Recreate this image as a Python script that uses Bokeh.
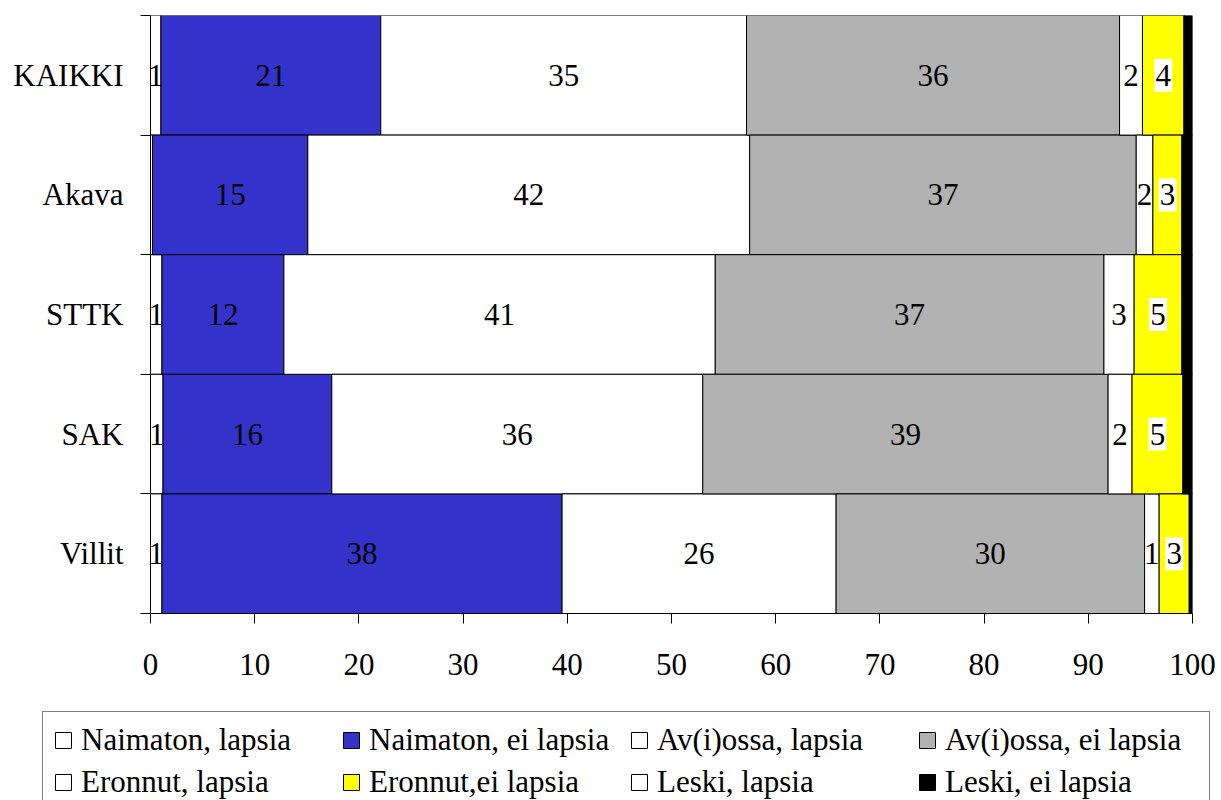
from bokeh.plotting import figure
from bokeh.layouts import column
from bokeh.models import Range1d, FixedTicker, ColumnDataSource, Legend, LegendItem
from bokeh.core.properties import value
from bokeh.embed import file_html
from bokeh.resources import INLINE

categories = ["KAIKKI", "Akava", "STTK", "SAK", "Villit"]

naimaton_lapsia = [1.0, 0.2, 1.1, 1.2, 1.1]
naimaton_ei_lapsia = [21.1, 14.9, 11.7, 16.2, 38.4]
avio_lapsia = [35.1, 42.4, 41.4, 35.6, 26.3]
avio_ei_lapsia = [35.8, 37.1, 37.3, 38.9, 29.6]
eronnut_lapsia = [2.2, 1.6, 2.9, 2.3, 1.4]
eronnut_ei_lapsia = [4.0, 2.8, 4.6, 4.9, 2.9]
leski_lapsia = [0.0, 0.0, 0.0, 0.0, 0.0]
leski_ei_lapsia = [0.8, 1.0, 1.0, 0.9, 0.3]

series_names = ["Naimaton, lapsia", "Naimaton, ei lapsia", "Av(i)ossa, lapsia",
                "Av(i)ossa, ei lapsia", "Eronnut, lapsia", "Eronnut,ei lapsia",
                "Leski, lapsia", "Leski, ei lapsia"]
series_values = [naimaton_lapsia, naimaton_ei_lapsia, avio_lapsia, avio_ei_lapsia,
                 eronnut_lapsia, eronnut_ei_lapsia, leski_lapsia, leski_ei_lapsia]
series_colors = ["#FFFFFF", "#3333CC", "#FFFFFF", "#B2B2B2",
                 "#FFFFFF", "#FFFF00", "#FFFFFF", "#000000"]
series_labelled = [True, True, True, True, True, True, False, False]
x_ticks = [0, 10, 20, 30, 40, 50, 60, 70, 80, 90, 100]

FONT = "Liberation Serif"
FS = "31px"

n = len(categories)
y_pos = [n - i - 0.5 for i in range(n)]
boundaries = [float(b) for b in range(n + 1)]

p = figure(frame_width=1042, frame_height=598,
           min_border_left=150, min_border_right=29,
           min_border_top=15, min_border_bottom=92,
           x_range=Range1d(0, 100), y_range=Range1d(0, n),
           output_backend="svg", toolbar_location=None,
           background_fill_color="white", border_fill_color="white")
p.outline_line_color = None
p.grid.visible = False

cum = [0.0] * n
for name, vals, col, lab in zip(series_names, series_values, series_colors, series_labelled):
    left = cum[:]
    right = [a + b for a, b in zip(cum, vals)]
    src = ColumnDataSource(dict(y=y_pos, left=left, right=right))
    p.hbar(y="y", left="left", right="right", height=1.0, source=src,
           fill_color=col, line_color="black", line_width=1)
    if lab:
        xs, ys, ts = [], [], []
        for i in range(n):
            v = round(vals[i])
            if v >= 1:
                xs.append((left[i] + right[i]) / 2)
                ys.append(y_pos[i])
                ts.append(str(v))
        tsrc = ColumnDataSource(dict(x=xs, y=ys, t=ts))
        if col == "#FFFF00":
            p.rect(x="x", y="y", width=18, height=33, width_units="screen",
                   height_units="screen", source=tsrc, fill_color="white",
                   line_color=None)
        p.text(x="x", y="y", text="t", source=tsrc, text_font=value(FONT),
               text_font_size=FS, text_align="center", text_baseline="middle",
               text_color="black")
    cum = right

# x axis
p.xaxis.ticker = FixedTicker(ticks=x_ticks)
p.xaxis.major_tick_in = 0
p.xaxis.major_tick_out = 10
p.xaxis.minor_tick_line_color = None
p.xaxis.major_label_text_font = FONT
p.xaxis.major_label_text_font_size = FS
p.xaxis.major_label_text_color = "black"
p.xaxis.major_label_standoff = 30
p.xaxis.axis_line_color = "black"
p.xaxis.major_tick_line_color = "black"

# y axis
p.yaxis.ticker = FixedTicker(ticks=y_pos, minor_ticks=boundaries)
p.yaxis.major_label_overrides = {y: c for y, c in zip(y_pos, categories)}
p.yaxis.major_tick_line_color = None
p.yaxis.major_tick_in = 0
p.yaxis.major_tick_out = 10
p.yaxis.minor_tick_in = 0
p.yaxis.minor_tick_out = 10
p.yaxis.minor_tick_line_color = "black"
p.yaxis.major_label_text_font = FONT
p.yaxis.major_label_text_font_size = FS
p.yaxis.major_label_text_color = "black"
p.yaxis.major_label_standoff = 17
p.yaxis.axis_line_color = "black"

# legend figure
LH = 95
q = figure(frame_width=1221, frame_height=LH, min_border=0,
           x_range=Range1d(0, 1), y_range=Range1d(0, 1),
           x_axis_type=None, y_axis_type=None,
           output_backend="svg", toolbar_location=None,
           background_fill_color="white", border_fill_color="white")
q.outline_line_color = None
q.grid.visible = False

items = []
for name, col in zip(series_names, series_colors):
    # legend-only renderer (hidden), used just for its swatch style
    r = q.hbar(y=[0.5], left=[2], right=[3], height=0.5,
               fill_color=col, line_color="black", line_width=1, visible=False)
    items.append(LegendItem(label=name, renderers=[r]))

legend = Legend(items=items, location=(42, LH - 106), orientation="horizontal", ncols=4,
                padding=10, spacing=6, glyph_width=20, glyph_height=20,
                label_standoff=8, label_width=254, label_height=36,
                label_text_font=FONT, label_text_font_size=FS, label_text_color="black",
                border_line_color="black", border_line_width=1,
                background_fill_color="white", background_fill_alpha=1.0,
                inactive_fill_alpha=0.0)
q.add_layout(legend)

layout = column(p, q, spacing=0)
open("out.html", "w").write(file_html(layout, INLINE))
